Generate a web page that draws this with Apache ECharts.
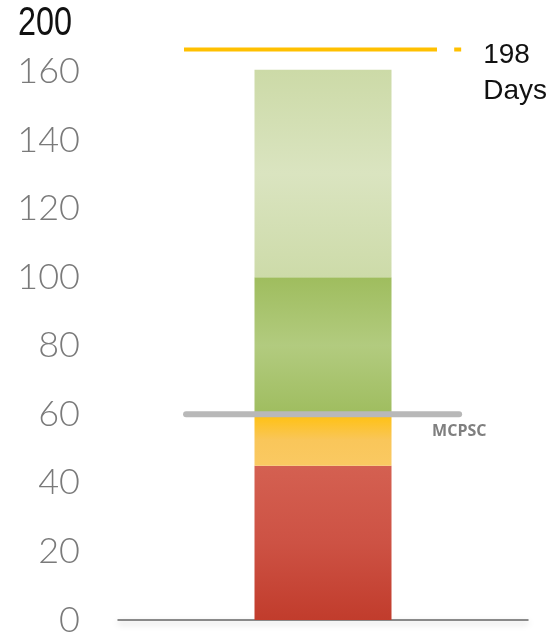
<!DOCTYPE html>
<html>
<head>
<meta charset="utf-8">
<script src="https://cdn.jsdelivr.net/npm/echarts@6/dist/echarts.min.js"></script>
<style>
  html, body { margin: 0; padding: 0; background: #fff; }
  #main { width: 550px; height: 638px; }
</style>
</head>
<body>
<div id="main"></div>
<script>
// values
const categories = ['Days'];
const redPart = [45];
const orangePart = [15];
const greenPart = [40];
const lightGreenPart = [60.5];
const mcpscValue = 60;
const targetPos = 166.4;     // where the 198 line is drawn on the (broken) scale
const targetLabel = '198\nDays';
const topTick = '200';
const yTicks = [0, 20, 40, 60, 80, 100, 120, 140, 160];

const chart = echarts.init(document.getElementById('main'));

function vgrad (stops) {
    return new echarts.graphic.LinearGradient(0, 0, 0, 1,
        stops.map((c, i) => ({ offset: i / (stops.length - 1), color: c })));
}

function barSeries (name, data, color) {
    return {
        name: name,
        type: 'bar',
        stack: 'all',
        data: data,
        barWidth: 137,
        itemStyle: { color: color },
        silent: true
    };
}

const option = {
    animation: false,
    grid: { left: 118, right: 22, top: 3, bottom: 14 },
    xAxis: [{
        type: 'category',
        data: categories,
        axisLine: {
            lineStyle: { color: '#666', width: 1.5, shadowColor: 'rgba(0,0,0,0.25)', shadowBlur: 6, shadowOffsetY: 3 }
        },
        axisTick: { show: false },
        axisLabel: { show: false }
    }, {
        type: 'value',
        min: 0,
        max: 1,
        show: false
    }],
    yAxis: {
        type: 'value',
        min: 0,
        max: 180,
        interval: 20,
        splitLine: { show: false },
        axisLine: { show: false },
        axisTick: { show: false },
        axisLabel: {
            margin: 38,
            color: '#7a7a7a',
            fontSize: 36,
            fontFamily: 'Lato',
            fontWeight: 300,
            formatter: v => yTicks.indexOf(v) >= 0 ? String(v) : ''
        }
    },
    series: [
        barSeries('red', redPart, vgrad(['#d46051', '#cd5244', '#c13c2c'])),
        barSeries('orange', orangePart, vgrad(['#ffc10f', '#f9c65a', '#fac962'])),
        barSeries('green', greenPart, vgrad(['#9fbd5e', '#b2cb7f', '#9fbd5f'])),
        barSeries('lightgreen', lightGreenPart, vgrad(['#ccdaa7', '#dae4c0', '#cddba9'])),
        {
            type: 'line',
            xAxisIndex: 1,
            data: [[0.166, mcpscValue], [0.832, mcpscValue]],
            symbol: 'none',
            silent: true,
            lineStyle: { color: '#b8b8b8', width: 6, cap: 'round' },
            endLabel: {
                show: true,
                formatter: 'MCPSC',
                color: '#7f7f7f',
                fontSize: 16,
                fontWeight: 'bold',
                fontFamily: '"Open Sans"',
                align: 'left',
                offset: [-35, 17]
            }
        },
        {
            type: 'line',
            xAxisIndex: 1,
            data: [[0.161, targetPos], [0.778, targetPos], '-', [0.82, targetPos], [0.837, targetPos]],
            symbol: 'none',
            silent: true,
            lineStyle: { color: '#ffc000', width: 4 },
            endLabel: {
                show: true,
                formatter: targetLabel,
                color: '#111',
                fontSize: 28,
                fontFamily: '"Liberation Sans", Arial, sans-serif',
                lineHeight: 36,
                align: 'left',
                verticalAlign: 'middle',
                distance: 22,
                offset: [0, 24]
            }
        }
    ],
    graphic: [{
        type: 'text',
        x: 18,
        y: 4,
        scaleX: 0.81,
        style: {
            text: topTick,
            fill: '#111',
            font: '40px "Liberation Sans", Arial, sans-serif',
            verticalAlign: 'top'
        }
    }]
};

chart.setOption(option);
</script>
</body>
</html>
